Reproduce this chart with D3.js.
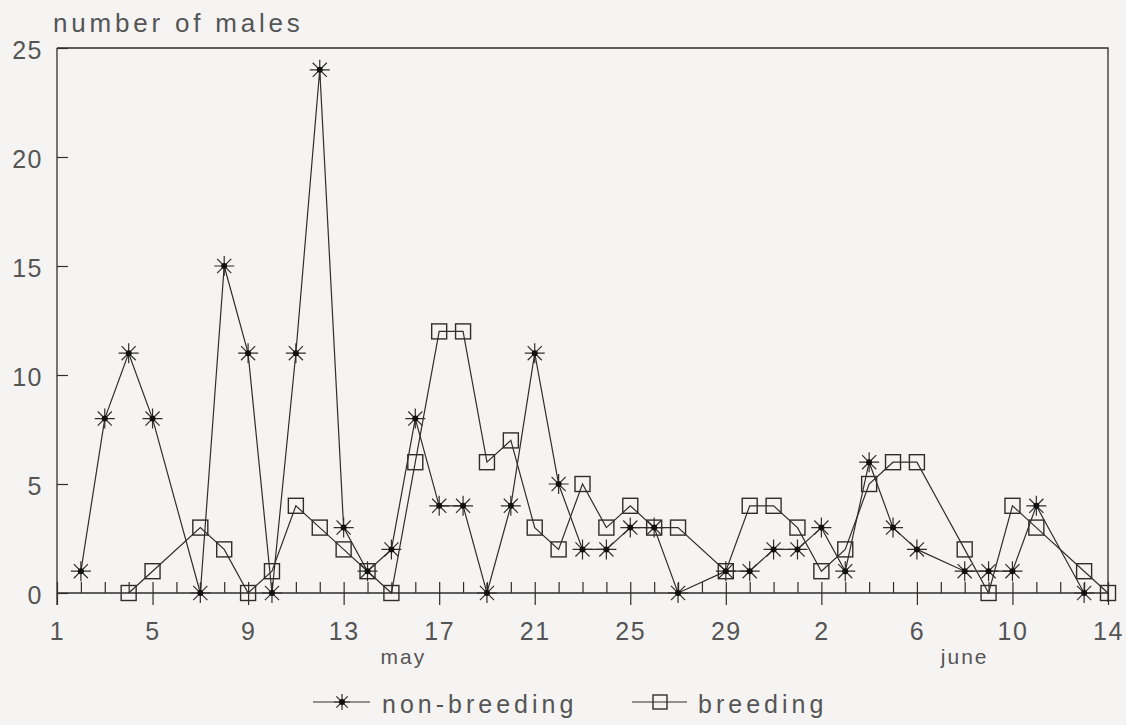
<!DOCTYPE html>
<html>
<head>
<meta charset="utf-8">
<script src="https://cdn.jsdelivr.net/npm/d3@7"></script>
<style>
    body { margin: 0; background: #f5f4f2; }
    svg { display: block; }
    text { font-family: 'Liberation Sans', Arial, sans-serif; fill: #555; }
</style>
</head>
<body>
<div id="chart"></div>
<script>
// day 1 = 1 May, day 32 = 1 June
const nonBreedingDays = [2, 3, 4, 5, 7, 8, 9, 10, 11, 12, 13, 14, 15, 16, 17, 18, 19, 20, 21, 22, 23, 24, 25, 26, 27, 29, 30, 31, 32, 33, 34, 35, 36, 37, 39, 40, 41, 42, 44]
const nonBreeding = [1, 8, 11, 8, 0, 15, 11, 0, 11, 24, 3, 1, 2, 8, 4, 4, 0, 4, 11, 5, 2, 2, 3, 3, 0, 1, 1, 2, 2, 3, 1, 6, 3, 2, 1, 1, 1, 4, 0]

const breedingDays = [4, 5, 7, 8, 9, 10, 11, 12, 13, 14, 15, 16, 17, 18, 19, 20, 21, 22, 23, 24, 25, 26, 27, 29, 30, 31, 32, 33, 34, 35, 36, 37, 39, 40, 41, 42, 44, 45]
const breeding = [0, 1, 3, 2, 0, 1, 4, 3, 2, 1, 0, 6, 12, 12, 6, 7, 3, 2, 5, 3, 4, 3, 3, 1, 4, 4, 3, 1, 2, 5, 6, 6, 2, 0, 4, 3, 1, 0]

const majorDays = [1, 5, 9, 13, 17, 21, 25, 29, 33, 37, 41, 45]
const majorLabels = ['1', '5', '9', '13', '17', '21', '25', '29', '2', '6', '10', '14']
const yTicks = [0, 5, 10, 15, 20, 25]
const monthNames = ['may', 'june']
const monthDays = [15.5, 39]

const width = 1126, height = 725
const margin = {top: 48, right: 18, bottom: 132, left: 57}
const ink = '#2e2e2e'

const svg = d3.select('#chart')
    .append('svg')
    .attr('width', width)
    .attr('height', height)

const x = d3.scaleLinear().domain([1, 45]).range([margin.left, width - margin.right])
const y = d3.scaleLinear().domain([0, 25]).range([height - margin.bottom, margin.top])

// frame: top and right border
svg.append('path')
    .attr('d', `M${x(1)},${y(25)}H${x(45)}V${y(0) + 9}`)
    .attr('fill', 'none')
    .attr('stroke', ink)
    .attr('stroke-width', 1.3)

// y axis
const yAxis = svg.append('g')
    .attr('transform', `translate(${x(1)},0)`)
    .call(d3.axisLeft(y).tickValues(yTicks).tickSize(-11).tickPadding(14))
yAxis.select('.domain').remove()
svg.append('line')
    .attr('x1', x(1)).attr('x2', x(1))
    .attr('y1', y(25)).attr('y2', y(0) + 12)
    .attr('stroke', ink).attr('stroke-width', 1.3)

// x axis: minor ticks upward every day
const minor = svg.append('g')
    .attr('transform', `translate(0,${y(0)})`)
    .call(d3.axisTop(x).tickValues(d3.range(1, 46)).tickSize(11).tickFormat(''))
minor.select('.domain').remove()

// x axis: major ticks below with labels
const major = svg.append('g')
    .attr('transform', `translate(0,${y(0)})`)
    .call(d3.axisBottom(x).tickValues(majorDays).tickSize(12)
        .tickFormat((d, i) => majorLabels[i]).tickPadding(17))
major.select('.domain').remove()

svg.append('line')
    .attr('x1', x(1)).attr('x2', x(45))
    .attr('y1', y(0)).attr('y2', y(0))
    .attr('stroke', ink).attr('stroke-width', 1.3)

svg.selectAll('.tick line').attr('stroke', ink).attr('stroke-width', 1.2)
svg.selectAll('.tick text')
    .attr('font-size', 25)
    .attr('letter-spacing', 1.5)
    .style('font-family', "'Liberation Sans', Arial, sans-serif")
    .attr('fill', '#555')
yAxis.selectAll('.tick text').attr('dy', '0.4em')

// month names
svg.selectAll('.month')
    .data(monthNames)
    .join('text')
    .attr('class', 'month')
    .attr('x', (d, i) => x(monthDays[i]))
    .attr('y', 664)
    .attr('text-anchor', 'middle')
    .attr('font-size', 21)
    .attr('letter-spacing', 2)
    .text(d => d)

// y title
svg.append('text')
    .attr('x', 53)
    .attr('y', 32)
    .attr('font-size', 26)
    .attr('letter-spacing', 3.8)
    .text('number of males')

const line = d3.line().x(d => x(d[0])).y(d => y(d[1]))
const nbPts = nonBreedingDays.map((d, i) => [d, nonBreeding[i]])
const bPts = breedingDays.map((d, i) => [d, breeding[i]])

const starPath = r => {
    const a = r * Math.SQRT1_2
    return `M${-r},0H${r}M0,${-r}V${r}M${-a},${-a}L${a},${a}M${-a},${a}L${a},${-a}`
}

function drawStar(g, cx, cy, r) {
    g.append('path')
        .attr('transform', `translate(${cx},${cy})`)
        .attr('d', starPath(r))
        .attr('stroke', ink)
        .attr('stroke-width', 1.2)
        .attr('fill', 'none')
    g.append('circle')
        .attr('cx', cx).attr('cy', cy).attr('r', 3)
        .attr('fill', '#111')
}

function drawSquare(g, cx, cy, s) {
    g.append('rect')
        .attr('x', cx - s / 2).attr('y', cy - s / 2)
        .attr('width', s).attr('height', s)
        .attr('fill', 'none')
        .attr('stroke', ink)
        .attr('stroke-width', 1.4)
}

// series lines
svg.append('path')
    .datum(nbPts)
    .attr('d', line)
    .attr('fill', 'none')
    .attr('stroke', ink)
    .attr('stroke-width', 1.2)

svg.append('path')
    .datum(bPts)
    .attr('d', line)
    .attr('fill', 'none')
    .attr('stroke', ink)
    .attr('stroke-width', 1.2)

const marks = svg.append('g')
nbPts.forEach(d => drawStar(marks, x(d[0]), y(d[1]), 10))
bPts.forEach(d => drawSquare(marks, x(d[0]), y(d[1]), 15))

// legend
const legY = 702
const leg = svg.append('g')
leg.append('line')
    .attr('x1', 313).attr('x2', 370).attr('y1', legY).attr('y2', legY)
    .attr('stroke', ink).attr('stroke-width', 1.2)
drawStar(leg, 342, legY, 8)
leg.append('text')
    .attr('x', 382).attr('y', 713)
    .attr('font-size', 25)
    .attr('letter-spacing', 4)
    .text('non-breeding')

leg.append('line')
    .attr('x1', 632).attr('x2', 687).attr('y1', legY).attr('y2', legY)
    .attr('stroke', ink).attr('stroke-width', 1.2)
drawSquare(leg, 660, legY, 14)
leg.append('text')
    .attr('x', 698).attr('y', 713)
    .attr('font-size', 25)
    .attr('letter-spacing', 4)
    .text('breeding')
</script>
</body>
</html>
